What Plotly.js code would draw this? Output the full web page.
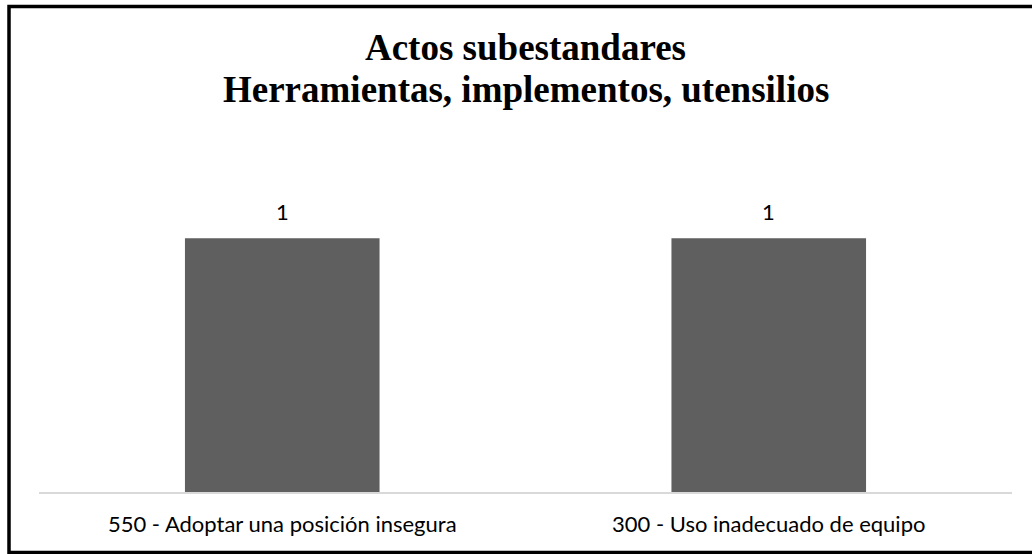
<!DOCTYPE html>
<html>
<head>
<meta charset="utf-8">
<script src="https://cdn.plot.ly/plotly-3.0.1.min.js"></script>
<style>
html,body{margin:0;padding:0;background:#fff;}
#chart{width:1032px;height:554px;}
</style>
</head>
<body>
<div id="chart"></div>
<script>
const categories = ["550 - Adoptar una posición insegura", "300 - Uso inadecuado de equipo"];
const values = [1, 1];
const titleLines = ["Actos subestandares", "Herramientas, implementos, utensilios"];

const labelFont = {family: "Lato, 'Open Sans', sans-serif", size: 22, color: "#000"};
const titleFont = {family: "'Liberation Serif', 'Times New Roman', serif", size: 37, color: "#000", weight: "bold"};

const trace = {
  type: "bar",
  x: categories,
  y: values,
  marker: {color: "#5f5f5f"},
  hoverinfo: "none",
  cliponaxis: false
};

const annotations = categories.map((c, i) => ({
  x: c, y: values[i], xref: "x", yref: "y",
  text: String(values[i]), showarrow: false,
  yanchor: "bottom", yshift: 11,
  font: labelFont
}));
annotations.push({
  x: 0.5, xref: "paper", xanchor: "center",
  y: (492 - 90)/330, yref: "paper", yanchor: "middle",
  text: titleLines[1], showarrow: false, font: titleFont
});

const layout = {
  width: 1032, height: 554,
  margin: {l: 39, r: 20, t: 162, b: 62},
  paper_bgcolor: "#fff", plot_bgcolor: "#fff",
  bargap: 0.6,
  showlegend: false,
  title: {
    text: titleLines[0],
    font: titleFont,
    x: 0.5, xref: "paper", xanchor: "center",
    y: 1 - 47/554, yref: "container", yanchor: "middle"
  },
  xaxis: {
    showgrid: false, zeroline: false,
    showline: true, linecolor: "#d9d9d9", linewidth: 2,
    ticks: "", tickfont: labelFont,
    ticklabelstandoff: 12,
    fixedrange: true
  },
  yaxis: {
    range: [0, 1.3], visible: false, showgrid: false, zeroline: false, fixedrange: true
  },
  annotations: annotations,
  shapes: [{
    type: "rect", xref: "paper", yref: "paper",
    x0: (9 - 39)/973, x1: (1042 - 39)/973,
    y0: (492 - 552.5)/330, y1: (492 - 6.5)/330,
    line: {color: "#000", width: 3.5}, fillcolor: "rgba(0,0,0,0)", layer: "above"
  }]
};

Plotly.newPlot("chart", [trace], layout, {displayModeBar: false, staticPlot: true});
</script>
</body>
</html>
